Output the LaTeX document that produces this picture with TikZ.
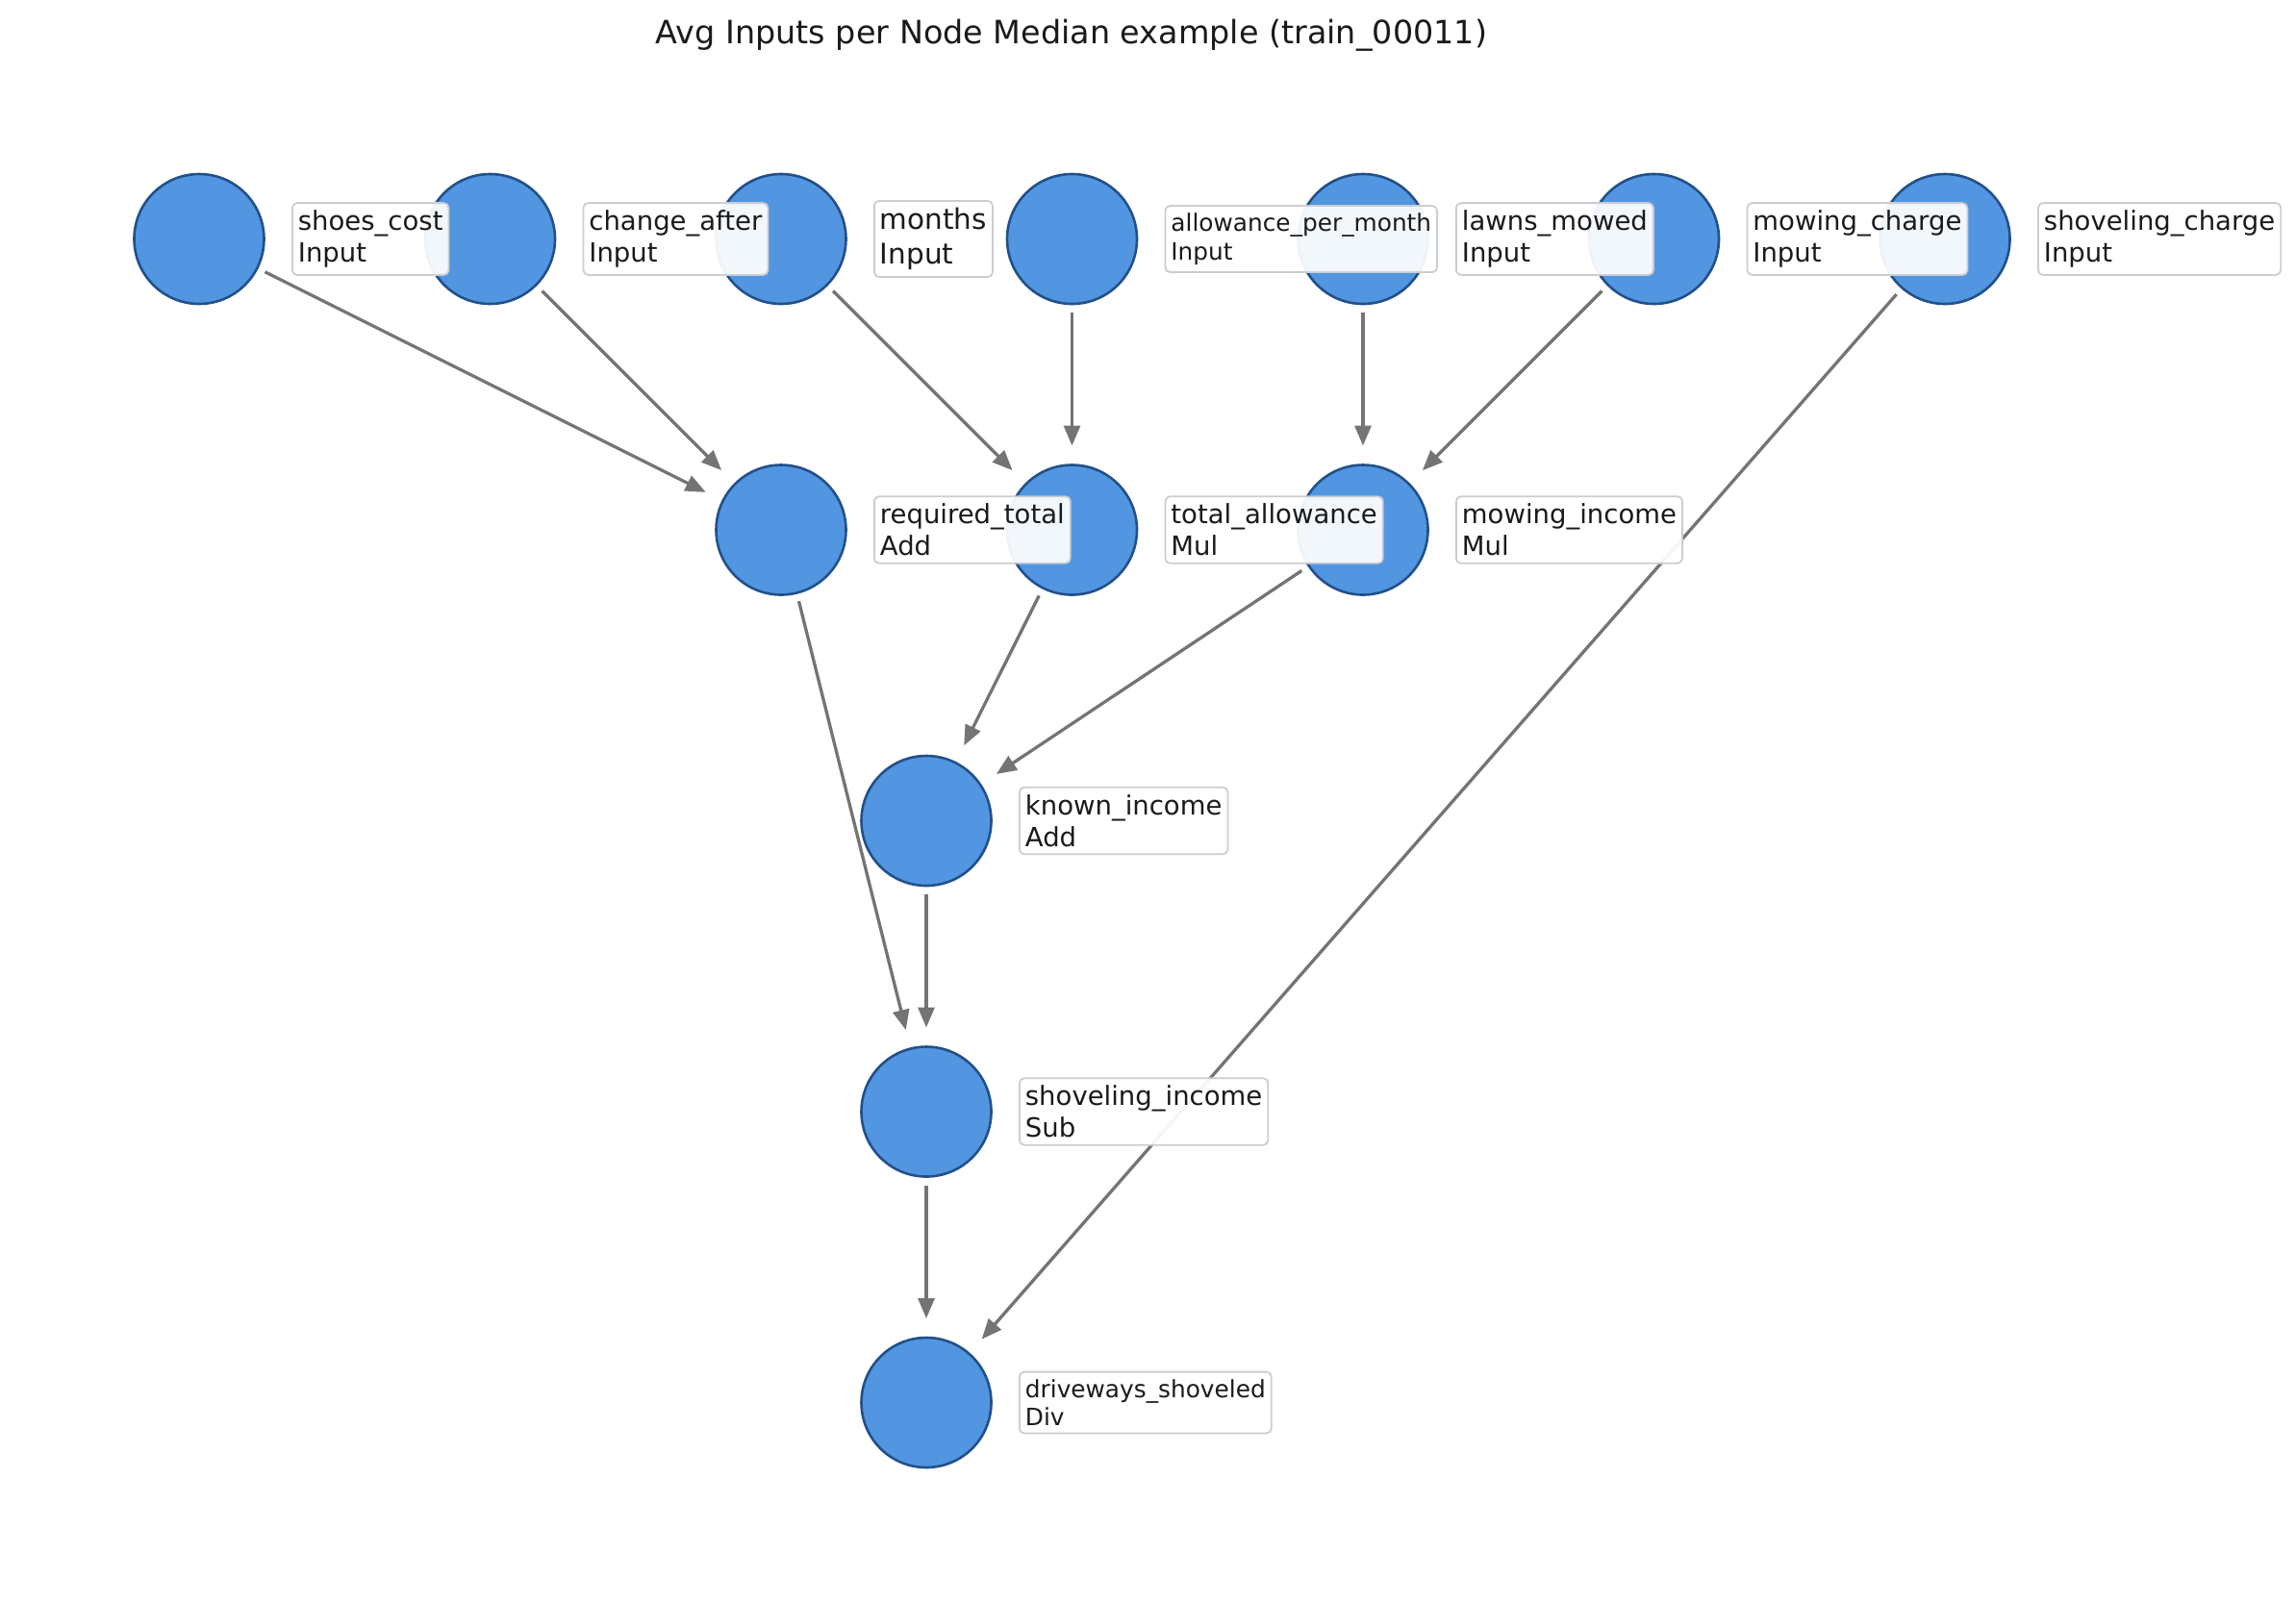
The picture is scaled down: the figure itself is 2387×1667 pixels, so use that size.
\documentclass[tikz,border=0pt]{standalone}
\usepackage{fontspec}
\setmainfont{DejaVu Sans}
\usetikzlibrary{arrows.meta}
\definecolor{nodefill}{HTML}{5296E1}
\definecolor{nodeedge}{HTML}{22508A}
\definecolor{edgegray}{HTML}{747474}
\definecolor{boxedge}{HTML}{CACDD2}
\definecolor{txt}{HTML}{1A1A1A}
\tikzset{
  opnode/.style={circle, fill=nodefill, draw=nodeedge, line width=1.3pt, minimum size=67.5pt, inner sep=0pt, outer sep=0pt},
  flow/.style={draw=edgegray, line width=1.65pt, -{Triangle[length=10.5pt,width=8.5pt]}, shorten <=4.5pt, shorten >=10pt},
  lbl/.style={anchor=west, draw=boxedge, line width=0.9pt, fill=white, fill opacity=0.93, text opacity=1, text=txt, rounded corners=2.5pt, align=left, inner xsep=0.3em, inner ysep=0.38em},
  lnorm/.style={lbl, font=\fontsize{13.75}{16.5}\selectfont},
  lsmall/.style={lbl, font=\fontsize{12.4}{14.9}\selectfont},
  llarge/.style={lbl, font=\fontsize{14.75}{17.7}\selectfont},
}
\begin{document}
\begin{tikzpicture}[x=0.5pt,y=-0.5pt]
\useasboundingbox (0,0) rectangle (2387,1667);
\node[font=\fontsize{16.7}{20}\selectfont, text=txt] (title) at (1114,37) {Avg Inputs per Node Median example (train\_00011)};
% circles
\node[opnode] (shoes) at (207,248.5) {};
\node[opnode] (change) at (509.5,248.5) {};
\node[opnode] (months) at (812,248.5) {};
\node[opnode] (apm) at (1114.5,248.5) {};
\node[opnode] (lawns) at (1417,248.5) {};
\node[opnode] (mcharge) at (1719.5,248.5) {};
\node[opnode] (scharge) at (2022,248.5) {};
\node[opnode] (req) at (812,551) {};
\node[opnode] (tall) at (1114.5,551) {};
\node[opnode] (minc) at (1417,551) {};
\node[opnode] (kinc) at (963,853.5) {};
\node[opnode] (sinc) at (963,1156) {};
\node[opnode] (drive) at (963,1458.5) {};
% edges
\draw[flow] (shoes) -- (req);
\draw[flow] (change) -- (req);
\draw[flow] (months) -- (tall);
\draw[flow] (apm) -- (tall);
\draw[flow] (lawns) -- (minc);
\draw[flow] (mcharge) -- (minc);
\draw[flow] (scharge) -- (drive);
\draw[flow] (req) -- (sinc);
\draw[flow] (tall) -- (kinc);
\draw[flow] (minc) -- (kinc);
\draw[flow] (kinc) -- (sinc);
\draw[flow] (sinc) -- (drive);
% labels
\node[lnorm] (lshoes) at (303,248.5) {shoes\_cost\\Input};
\node[lnorm] (lchange) at (605.5,248.5) {change\_after\\Input};
\node[llarge] (lmonths) at (908,248.5) {months\\Input};
\node[lsmall] (lapm) at (1210.5,248.5) {allowance\_per\_month\\Input};
\node[lnorm] (llawns) at (1513,248.5) {lawns\_mowed\\Input};
\node[lnorm] (lmcharge) at (1815.5,248.5) {mowing\_charge\\Input};
\node[lnorm] (lscharge) at (2118,248.5) {shoveling\_charge\\Input};
\node[lnorm] (lreq) at (908,551) {required\_total\\Add};
\node[lnorm] (ltall) at (1210.5,551) {total\_allowance\\Mul};
\node[lnorm] (lminc) at (1513,551) {mowing\_income\\Mul};
\node[lnorm] (lkinc) at (1059,853.5) {known\_income\\Add};
\node[lnorm] (lsinc) at (1059,1156) {shoveling\_income\\Sub};
\node[lsmall] (ldrive) at (1059,1458.5) {driveways\_shoveled\\Div};
\end{tikzpicture}
\end{document}
